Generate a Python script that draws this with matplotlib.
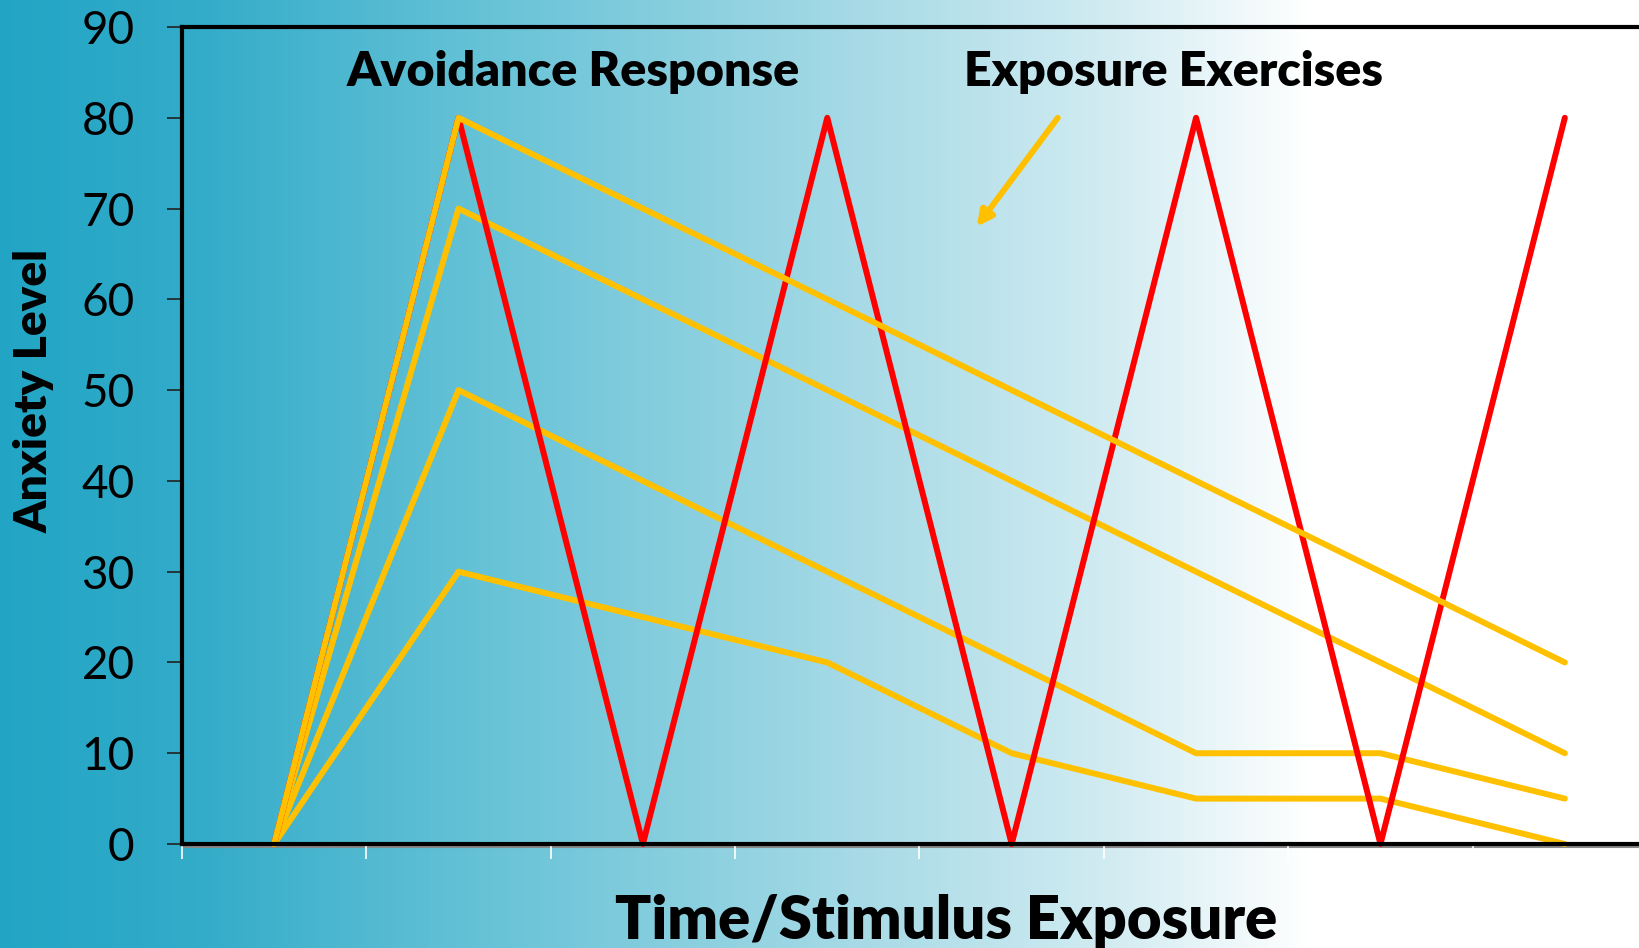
import numpy as np
import matplotlib.pyplot as plt
from matplotlib.colors import LinearSegmentedColormap

# anxiety levels at each exposure step
steps = [0.5, 1.5, 2.5, 3.5, 4.5, 5.5, 6.5, 7.5]
avoidance = [0, 80, 0, 80, 0, 80, 0, 80]
exposure_1 = [0, 80, 70, 60, 50, 40, 30, 20]
exposure_2 = [0, 70, 60, 50, 40, 30, 20, 10]
exposure_3 = [0, 50, 40, 30, 20, 10, 10, 5]
exposure_4 = [0, 30, 25, 20, 10, 5, 5, 0]
y_ticks = [0, 10, 20, 30, 40, 50, 60, 70, 80, 90]

plt.rcParams['font.family'] = ['Lato', 'DejaVu Sans']

fig = plt.figure(figsize=(16.39, 9.48), dpi=100)

# teal to white background
bg = fig.add_axes([0, 0, 1, 1], zorder=0)
bg.axis('off')
cmap = LinearSegmentedColormap.from_list(
    'bg', [(0.0, '#22a5c5'), (0.12, '#33acc9'), (0.3, '#68c3d7'),
           (0.55, '#aedde8'), (0.68, '#d2ecf2'), (0.8, '#ffffff'), (1.0, '#ffffff')])
bg.imshow(np.linspace(0, 1, 512)[None, :], aspect='auto', cmap=cmap, extent=[0, 1, 0, 1])

ax = fig.add_axes([0.111, 0.1097, 0.9, 0.8618], zorder=1)
ax.set_facecolor('none')

yellow = '#ffc000'
lw = 4.3
for series in [exposure_4, exposure_3, exposure_2]:
    ax.plot(steps, series, color=yellow, lw=lw, solid_capstyle='round', clip_on=False)
ax.plot(steps, avoidance, color='#ff0000', lw=lw, solid_capstyle='round', clip_on=False)
ax.plot(steps, exposure_1, color=yellow, lw=lw, solid_capstyle='round', clip_on=False)

ax.set_xlim(0, 8)
ax.set_ylim(0, 90)
ax.set_yticks(y_ticks)
ax.set_xticks(range(9))
ax.set_xticklabels([])
ax.tick_params(axis='y', direction='out', length=11, width=1.2, color='#222222',
               labelsize=33, pad=23)
ax.tick_params(axis='x', direction='out', length=11, width=1.2, color='white')

for side in ['left', 'bottom', 'top']:
    ax.spines[side].set_linewidth(3)
    ax.spines[side].set_color('black')
ax.spines['right'].set_visible(False)

# grey axis line just under the bottom spine
ax.plot([0, 8], [-0.35, -0.35], color='#888888', lw=1.5, clip_on=False, zorder=1)

ax.text(2.12, 85.0, 'Avoidance Response', fontsize=34.8, fontweight='heavy',
        ha='center', va='center')
ax.text(5.375, 85.0, 'Exposure Exercises', fontsize=34.8, fontweight='heavy',
        ha='center', va='center')
ax.annotate('', xy=(4.31, 68.0), xytext=(4.75, 80.0),
            arrowprops=dict(arrowstyle='-|>,head_length=0.9,head_width=0.45',
                            color=yellow, lw=4.3, shrinkA=0, shrinkB=0))

fig.text(0.577, 0.028, 'Time/Stimulus Exposure', fontsize=43, fontweight='heavy',
         ha='center', va='center')
fig.text(0.021, 0.588, 'Anxiety Level', fontsize=33, fontweight='heavy',
         ha='center', va='center', rotation=90)

fig.savefig('out.png', dpi=100)
